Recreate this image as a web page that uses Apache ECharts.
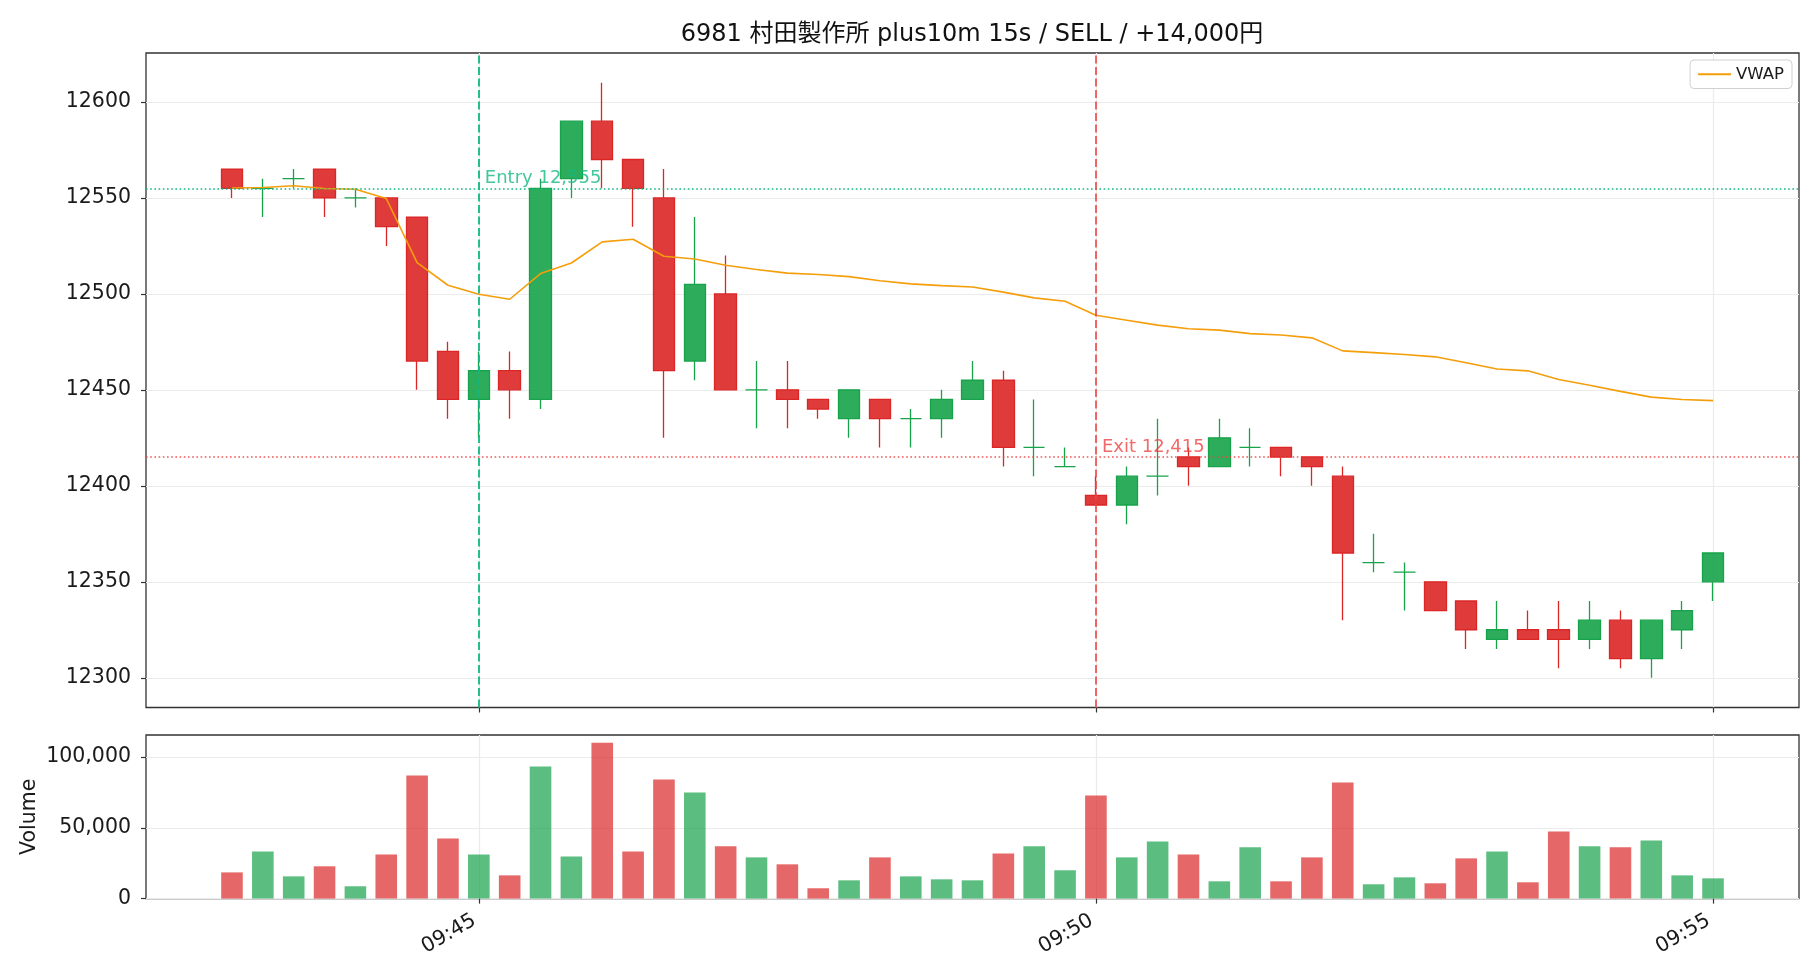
<!DOCTYPE html>
<html>
<head>
<meta charset="utf-8">
<script src="https://cdn.jsdelivr.net/npm/echarts@6/dist/echarts.min.js"></script>
<style>
html,body{margin:0;padding:0;background:#fff;}
#chart{width:1820px;height:980px;}
</style>
</head>
<body>
<div id="chart"></div>
<script>
// ---------------- data ----------------
const titleText = '6981 村田製作所 plus10m 15s / SELL / +14,000円';
const times = [
  '09:43:00','09:43:15','09:43:30','09:43:45','09:44:00','09:44:15','09:44:30','09:44:45',
  '09:45:00','09:45:15','09:45:30','09:45:45','09:46:00','09:46:15','09:46:30','09:46:45',
  '09:47:00','09:47:15','09:47:30','09:47:45','09:48:00','09:48:15','09:48:30','09:48:45',
  '09:49:00','09:49:15','09:49:30','09:49:45','09:50:00','09:50:15','09:50:30','09:50:45',
  '09:51:00','09:51:15','09:51:30','09:51:45','09:52:00','09:52:15','09:52:30','09:52:45',
  '09:53:00','09:53:15','09:53:30','09:53:45','09:54:00','09:54:15','09:54:30','09:54:45',
  '09:55:00'
];
const opens  = [12565,12555,12560,12565,12550,12550,12540,12470,12445,12460,12445,12560,12590,12570,12550,12465,12500,12450,12450,12445,12435,12445,12435,12435,12445,12455,12420,12410,12395,12390,12405,12415,12410,12420,12420,12415,12405,12360,12355,12350,12340,12320,12325,12325,12320,12330,12310,12325,12350];
const closes = [12555,12555,12560,12550,12550,12535,12465,12445,12460,12450,12555,12590,12570,12555,12460,12505,12450,12450,12445,12440,12450,12435,12435,12445,12455,12420,12420,12410,12390,12405,12405,12410,12425,12420,12415,12410,12365,12360,12355,12335,12325,12325,12320,12320,12330,12310,12330,12335,12365];
const highs  = [12565,12560,12565,12565,12555,12550,12540,12475,12470,12470,12560,12590,12610,12570,12565,12540,12520,12465,12465,12445,12450,12445,12440,12450,12465,12460,12445,12420,12405,12410,12435,12420,12435,12430,12420,12415,12410,12375,12360,12350,12340,12340,12335,12340,12340,12335,12330,12340,12365];
const lows   = [12550,12540,12555,12540,12545,12525,12450,12435,12425,12435,12440,12550,12555,12535,12425,12455,12450,12430,12430,12435,12425,12420,12420,12425,12445,12410,12405,12410,12390,12380,12395,12400,12410,12410,12405,12400,12330,12355,12335,12335,12315,12315,12320,12305,12315,12305,12300,12315,12340];
const volumes = [18500,33300,15700,22800,8700,31200,86900,42500,31200,16400,93200,29800,110000,33300,84000,74900,36900,29100,24200,7300,12900,29100,15700,13600,12900,31900,36900,20000,72800,29100,40400,31200,12200,36200,12200,29100,81900,10100,15000,10800,28400,33300,11500,47400,36900,36200,41100,16400,14300];
const vwap = [12555.2,12555.4,12556.3,12554.9,12554.5,12549.7,12516.3,12504.5,12499.8,12497.2,12510.6,12516.1,12527.1,12528.5,12519.6,12518.2,12514.9,12512.7,12510.8,12510.1,12509.0,12506.8,12505.2,12504.3,12503.6,12500.9,12497.9,12496.2,12488.9,12486.3,12483.7,12481.8,12481.1,12479.3,12478.6,12477.1,12470.3,12469.4,12468.4,12467.2,12464.1,12460.9,12459.9,12455.4,12452.4,12449.2,12446.2,12445.0,12444.4];
const xTickLabels = ['09:45','09:50','09:55'];
const priceTicks = [12300,12350,12400,12450,12500,12550,12600];
const volumeTicks = [0,50000,100000];
const entry = {time:'09:45:00', price:12555, label:'Entry 12,555'};
const exit  = {time:'09:50:00', price:12415, label:'Exit 12,415'};

// ---------------- helpers ----------------
function toSec(s){const p=s.split(':').map(Number);return p[0]*3600+p[1]*60+(p[2]||0);}
function fmtHM(v){const h=Math.floor(v/3600),m=Math.round((v-h*3600)/60);return String(h).padStart(2,'0')+':'+String(m).padStart(2,'0');}
const xs = times.map(toSec);
const X_PAD = 41.8;
const xMin = xs[0]-X_PAD, xMax = xs[xs.length-1]+X_PAD;
const FONT = "'DejaVu Sans','Noto Sans CJK JP',sans-serif";
const UP='#16a34a', DOWN='#dc2626';
const UP_F='rgba(22,163,74,0.9)', DOWN_F='rgba(220,38,38,0.9)';
const UP_V='rgba(22,163,74,0.7)', DOWN_V='rgba(220,38,38,0.7)';
const ENTRY_C='#10b981', EXIT_C='#ef4444';

const candleData = xs.map((x,i)=>{
  const item={value:[x,opens[i],closes[i],lows[i],highs[i]]};
  if(opens[i]===closes[i]){
    item.itemStyle={color:UP_F,color0:UP_F,borderColor:UP,borderColor0:UP,borderColorDoji:UP};
  }
  return item;
});
const volData = xs.map((x,i)=>({value:[x,volumes[i]],itemStyle:{color:closes[i]>=opens[i]?UP_V:DOWN_V}}));
const vwapData = xs.map((x,i)=>[x,vwap[i]]);

const G0={left:146,top:53,width:1653,height:654.5};
const G1={left:146,top:735,width:1653,height:163.6};

const tickStyle={show:true,length:5,lineStyle:{color:'#333',width:1.2}};
const splitStyle={show:true,lineStyle:{color:'#ebebeb',width:1.2}};
const labelFont={fontFamily:FONT,fontSize:20.5,color:'#1a1a1a'};

const chart=echarts.init(document.getElementById('chart'),null,{renderer:'canvas'});
chart.setOption({
  animation:false,
  backgroundColor:'#fff',
  title:{text:titleText,left:972,textAlign:'center',top:23,padding:0,
    textStyle:{fontFamily:FONT,fontSize:24,fontWeight:'normal',color:'#111'}},
  legend:{data:[{name:'VWAP',icon:'rect'}],right:28,top:60,orient:'horizontal',
    itemWidth:33,itemHeight:2,itemGap:8,
    borderColor:'#d0d0d0',borderWidth:1,borderRadius:4,padding:[6,8],backgroundColor:'#fff',
    textStyle:{fontFamily:FONT,fontSize:16.5,color:'#1a1a1a'}},
  grid:[
    Object.assign({show:true,borderColor:'#333',borderWidth:1.3,containLabel:false},G0),
    Object.assign({show:true,borderColor:'#333',borderWidth:1.3,containLabel:false},G1)
  ],
  xAxis:[
    {type:'value',gridIndex:0,min:xMin,max:xMax,axisLine:{show:false},
     axisTick:Object.assign({customValues:xTickLabels.map(toSec)},tickStyle),
     axisLabel:{show:false,customValues:xTickLabels.map(toSec)},
     splitLine:splitStyle},
    {type:'value',gridIndex:1,min:xMin,max:xMax,axisLine:{show:false},
     axisTick:Object.assign({customValues:xTickLabels.map(toSec)},tickStyle),
     axisLabel:Object.assign({show:true,customValues:xTickLabels.map(toSec),rotate:30,margin:18,
       padding:[0,5,0,0],formatter:v=>fmtHM(v)},labelFont),
     splitLine:splitStyle}
  ],
  yAxis:[
    {type:'value',gridIndex:0,min:12284.5,max:12625.5,axisLine:{show:false},
     axisTick:Object.assign({customValues:priceTicks},tickStyle),
     axisLabel:Object.assign({customValues:priceTicks,margin:15,formatter:v=>String(v)},labelFont),
     splitLine:splitStyle},
    {type:'value',gridIndex:1,min:0,max:115500,axisLine:{show:false},
     name:'Volume',nameLocation:'middle',nameGap:106,nameMoveOverlap:false,
     nameTextStyle:{fontFamily:FONT,fontSize:20.5,color:'#1a1a1a'},
     axisTick:Object.assign({customValues:volumeTicks},tickStyle),
     axisLabel:Object.assign({customValues:volumeTicks,margin:15,formatter:v=>v.toLocaleString('en-US')},labelFont),
     splitLine:splitStyle}
  ],
  series:[
    {name:'candles',type:'candlestick',xAxisIndex:0,yAxisIndex:0,barWidth:22,
     encode:{x:0,y:[1,2,3,4]},
     itemStyle:{color:UP_F,color0:DOWN_F,borderColor:UP,borderColor0:DOWN,borderWidth:1.3},
     data:candleData,
     markLine:{silent:true,symbol:['none','none'],label:{show:false},animation:false,
       data:[
         {yAxis:entry.price,lineStyle:{color:ENTRY_C,type:[1.6,2.6],width:1.6}},
         {yAxis:exit.price,lineStyle:{color:EXIT_C,type:[1.6,2.6],width:1.6,opacity:0.9}},
         {xAxis:toSec(entry.time),lineStyle:{color:ENTRY_C,type:[8,3.5],width:1.8}},
         {xAxis:toSec(exit.time),lineStyle:{color:EXIT_C,type:[8,3.5],width:1.8,opacity:0.9}}
       ]},
     z:3},
    {name:'VWAP',type:'line',xAxisIndex:0,yAxisIndex:0,data:vwapData,symbol:'none',
     lineStyle:{color:'#f59e0b',width:1.6},itemStyle:{color:'#f59e0b'},z:4},
    {name:'labels',type:'scatter',xAxisIndex:0,yAxisIndex:0,symbolSize:0,silent:true,
     data:[
       {value:[toSec(entry.time),entry.price],label:{formatter:entry.label,color:ENTRY_C}},
       {value:[toSec(exit.time),exit.price],label:{formatter:exit.label,color:EXIT_C}}
     ],
     label:{show:true,position:[6,-1],align:'left',verticalAlign:'bottom',fontFamily:FONT,fontSize:18},
     z:5},
    {name:'Volume',type:'bar',xAxisIndex:1,yAxisIndex:1,barWidth:21.6,data:volData}
  ]
});
</script>
</body>
</html>
